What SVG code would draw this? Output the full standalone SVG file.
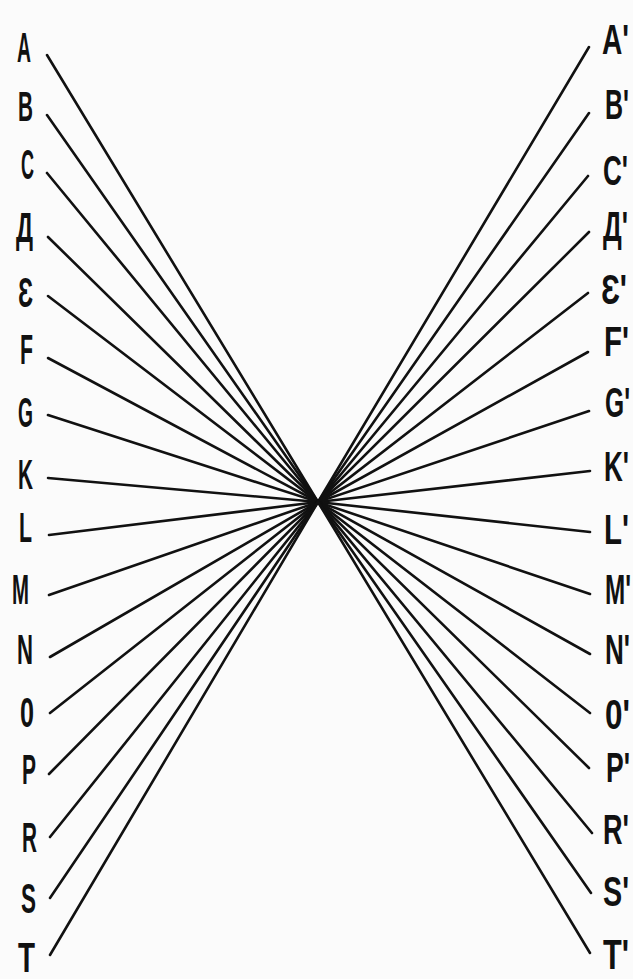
<svg xmlns="http://www.w3.org/2000/svg" width="633" height="979" viewBox="0 0 633 979">
<style>
.lbl{font-family:"Liberation Sans","DejaVu Sans",sans-serif;font-size:42px;font-weight:bold;fill:#111;}
.ln{stroke:#111;stroke-width:2.6;stroke-linecap:round;fill:none;}
</style>
<rect width="633" height="979" fill="#fbfbfb"/>
<g id="connectors" class="ln">
<path d="M47,55L318,502L589,47"/>
<path d="M47,115L318,502L589,113"/>
<path d="M47,173L318,502L588,176"/>
<path d="M48,237L318,502L589,232"/>
<path d="M48,296L318,502L588,293"/>
<path d="M48,358L318,502L588,352"/>
<path d="M48,415L318,502L589,411"/>
<path d="M48,478L318,502L590,471"/>
<path d="M49,535L318,502L590,532"/>
<path d="M49,595L318,502L590,594"/>
<path d="M50,657L318,502L590,654"/>
<path d="M50,713L318,502L590,713"/>
<path d="M49,774L318,502L589,768"/>
<path d="M50,837L318,502L592,833"/>
<path d="M50,898L318,502L591,893"/>
<path d="M50,955L318,502L590,953"/>
</g>
<g id="left-labels">
<g id="nA"><text class="lbl" x="17" y="62" textLength="14" lengthAdjust="spacingAndGlyphs">A</text></g>
<g id="nB"><text class="lbl" x="18" y="121" textLength="15" lengthAdjust="spacingAndGlyphs">B</text></g>
<g id="nC"><text class="lbl" x="21" y="179" textLength="13" lengthAdjust="spacingAndGlyphs">C</text></g>
<g id="nD"><text class="lbl" x="16" y="242" textLength="17" lengthAdjust="spacingAndGlyphs">Д</text></g>
<g id="nE"><text class="lbl" x="18" y="307" textLength="15" lengthAdjust="spacingAndGlyphs">Ɛ</text></g>
<g id="nF"><text class="lbl" x="20" y="364" textLength="13" lengthAdjust="spacingAndGlyphs">F</text></g>
<g id="nG"><text class="lbl" x="18" y="427" textLength="15" lengthAdjust="spacingAndGlyphs">G</text></g>
<g id="nK"><text class="lbl" x="18" y="489" textLength="15" lengthAdjust="spacingAndGlyphs">K</text></g>
<g id="nL"><text class="lbl" x="19" y="542" textLength="13" lengthAdjust="spacingAndGlyphs">L</text></g>
<g id="nM"><text class="lbl" x="12" y="604" textLength="17" lengthAdjust="spacingAndGlyphs">M</text></g>
<g id="nN"><text class="lbl" x="17" y="664" textLength="16" lengthAdjust="spacingAndGlyphs">N</text></g>
<g id="nO"><text class="lbl" x="20" y="727" textLength="14" lengthAdjust="spacingAndGlyphs">0</text></g>
<g id="nP"><text class="lbl" x="22" y="784" textLength="14" lengthAdjust="spacingAndGlyphs">P</text></g>
<g id="nR"><text class="lbl" x="22" y="852" textLength="15" lengthAdjust="spacingAndGlyphs">R</text></g>
<g id="nS"><text class="lbl" x="21" y="913" textLength="15" lengthAdjust="spacingAndGlyphs">S</text></g>
<g id="nT"><text class="lbl" x="18" y="972" textLength="17" lengthAdjust="spacingAndGlyphs">T</text></g>
</g>
<g id="right-labels">
<g id="nA2"><text class="lbl" x="602" y="54" textLength="27" lengthAdjust="spacingAndGlyphs">A'</text></g>
<g id="nB2"><text class="lbl" x="605" y="119" textLength="24" lengthAdjust="spacingAndGlyphs">B'</text></g>
<g id="nC2"><text class="lbl" x="603" y="185" textLength="25" lengthAdjust="spacingAndGlyphs">C'</text></g>
<g id="nD2"><text class="lbl" x="603" y="241" textLength="25" lengthAdjust="spacingAndGlyphs">Д'</text></g>
<g id="nE2"><text class="lbl" x="601" y="304" textLength="26" lengthAdjust="spacingAndGlyphs">Ɛ'</text></g>
<g id="nF2"><text class="lbl" x="604" y="356" textLength="25" lengthAdjust="spacingAndGlyphs">F'</text></g>
<g id="nG2"><text class="lbl" x="605" y="417" textLength="25" lengthAdjust="spacingAndGlyphs">G'</text></g>
<g id="nK2"><text class="lbl" x="604" y="481" textLength="25" lengthAdjust="spacingAndGlyphs">K'</text></g>
<g id="nL2"><text class="lbl" x="604" y="544" textLength="25" lengthAdjust="spacingAndGlyphs">L'</text></g>
<g id="nM2"><text class="lbl" x="605" y="604" textLength="26" lengthAdjust="spacingAndGlyphs">M'</text></g>
<g id="nN2"><text class="lbl" x="605" y="664" textLength="25" lengthAdjust="spacingAndGlyphs">N'</text></g>
<g id="nO2"><text class="lbl" x="605" y="729" textLength="25" lengthAdjust="spacingAndGlyphs">0'</text></g>
<g id="nP2"><text class="lbl" x="606" y="782" textLength="24" lengthAdjust="spacingAndGlyphs">P'</text></g>
<g id="nR2"><text class="lbl" x="603" y="844" textLength="26" lengthAdjust="spacingAndGlyphs">R'</text></g>
<g id="nS2"><text class="lbl" x="603" y="906" textLength="26" lengthAdjust="spacingAndGlyphs">S'</text></g>
<g id="nT2"><text class="lbl" x="603" y="969" textLength="26" lengthAdjust="spacingAndGlyphs">T'</text></g>
</g>
</svg>
